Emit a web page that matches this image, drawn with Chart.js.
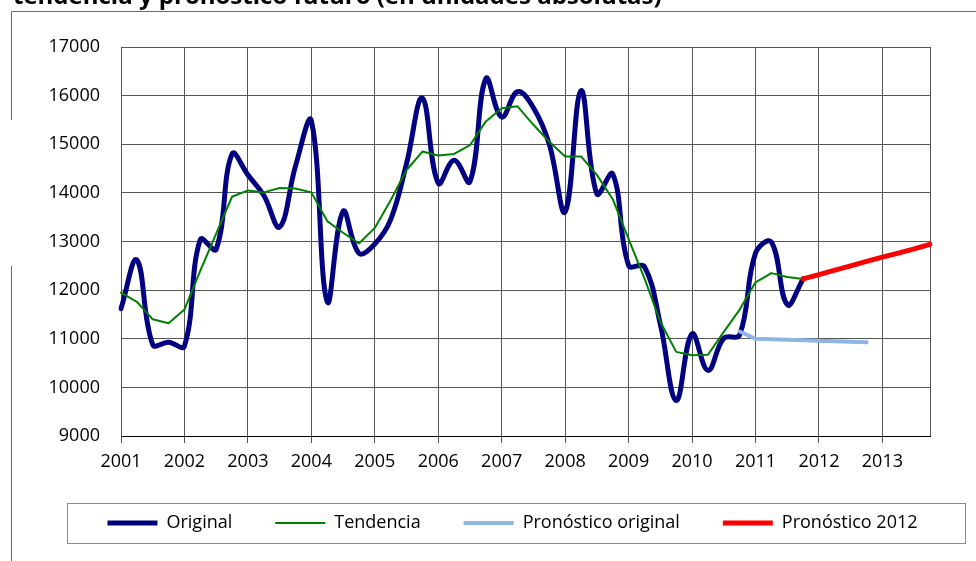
<!DOCTYPE html>
<html>
<head>
<meta charset="utf-8">
<script src="https://cdn.jsdelivr.net/npm/chart.js@4.4.1/dist/chart.umd.min.js"></script>
<style>
html,body{margin:0;padding:0;background:#fff;}
#wrap{width:976px;height:561px;position:relative;}
</style>
</head>
<body>
<div id="wrap"><canvas id="c" width="976" height="561"></canvas></div>
<script>
// ---- data (quarterly, 2001 T1 .. 2013 T4) ----
const years = ['2001','2002','2003','2004','2005','2006','2007','2008','2009','2010','2011','2012','2013'];
const quarters = ['T1','T2','T3','T4'];
const titleText = 'tendencia y pronóstico futuro (en unidades absolutas)';
const seriesNames = ['Original','Tendencia','Pronóstico original','Pronóstico 2012'];

const original = [
  11620,12620,10880,10930, 10850,13040,12840,14800, 14370,13950,13300,14550,
  15480,11760,13620,12760, 12950,13450,14600,15950, 14200,14670,14230,16350,
  15560,16080,15750,15000, 13610,16100,13980,14390, 12510,12480,11300,9730,
  11100,10350,11010,11080, 12760,12990,11700,12230
];
const tendencia = [
  11950,11760,11400,11320, 11600,12400,13160,13920, 14050,14010,14100,14090,
  14010,13420,13180,12960, 13280,13850,14470,14850, 14770,14800,14980,15470,
  15740,15780,15400,15050, 14750,14750,14370,13870, 13050,12240,11350,10730,
  10660,10670,11140,11600, 12160,12350,12270,12230
];
const pronosticoOriginalStart = '2010 T4';
const pronosticoOriginal = [11150,11000,10990,10980,10970,10960,10950,10940,10930];
const pronostico2012Start = '2011 T4';
const pronostico2012 = [12230,12320,12410,12500,12590,12680,12760,12850,12940];

const yTicks = {min: 9000, max: 17000, step: 1000};

// ---- build category labels and padded series ----
const categories = [];
years.forEach(y => quarters.forEach(q => categories.push(y + ' ' + q)));
function place(startLabel, values) {
  const start = categories.indexOf(startLabel);
  return categories.map((_, i) => (i >= start && i - start < values.length) ? values[i - start] : null);
}

const FONT = '"Open Sans", "DejaVu Sans", sans-serif';
Chart.defaults.font.family = FONT;
Chart.defaults.color = '#000';

const framePlugin = {
  id: 'frame',
  afterDraw(chart) {
    const ctx = chart.ctx;
    ctx.save();
    // outer frame (partly visible in the reference)
    ctx.strokeStyle = '#6b6b6b';
    ctx.lineWidth = 1;
    ctx.beginPath();
    ctx.moveTo(11.5, 11.5); ctx.lineTo(976, 11.5);
    ctx.moveTo(11.5, 11.5); ctx.lineTo(11.5, 120);
    ctx.moveTo(11.5, 266); ctx.lineTo(11.5, 561);
    ctx.stroke();
    // legend border
    ctx.strokeStyle = '#8a8a8a';
    ctx.strokeRect(67.5, 503.5, 898, 40);
    // title (cut off at top in the reference)
    let size = 20;
    ctx.font = 'bold ' + size + 'px ' + FONT;
    const w = ctx.measureText(titleText).width;
    size = size * 649 / w;
    ctx.font = 'bold ' + size.toFixed(2) + 'px ' + FONT;
    ctx.fillStyle = '#000';
    ctx.textBaseline = 'alphabetic';
    ctx.textAlign = 'left';
    ctx.fillText(titleText, 13, 3.5);
    ctx.restore();
  }
};

const GRID = '#555';
new Chart(document.getElementById('c'), {
  type: 'line',
  data: {
    labels: categories,
    datasets: [
      {label: seriesNames[0], data: original, borderColor: '#000080', backgroundColor: '#000080',
       borderWidth: 5, tension: 0.4, pointRadius: 0, borderCapStyle: 'round', borderJoinStyle: 'round', order: 4},
      {label: seriesNames[1], data: tendencia, borderColor: '#008000', backgroundColor: '#008000',
       borderWidth: 2, tension: 0, pointRadius: 0, borderCapStyle: 'round', borderJoinStyle: 'round', order: 3},
      {label: seriesNames[2], data: place(pronosticoOriginalStart, pronosticoOriginal), borderColor: '#8DB4E2', backgroundColor: '#8DB4E2',
       borderWidth: 4, tension: 0, pointRadius: 0, borderCapStyle: 'round', borderJoinStyle: 'round', order: 2},
      {label: seriesNames[3], data: place(pronostico2012Start, pronostico2012), borderColor: '#FF0000', backgroundColor: '#FF0000',
       borderWidth: 5, tension: 0, pointRadius: 0, borderCapStyle: 'round', borderJoinStyle: 'round', order: 1}
    ]
  },
  options: {
    responsive: false,
    animation: false,
    devicePixelRatio: 1,
    layout: {padding: {left: 49, right: 0, top: 47, bottom: 19}},
    plugins: {
      title: {display: false},
      tooltip: {enabled: false},
      legend: {
        position: 'bottom',
        align: 'center',
        labels: {
          usePointStyle: true,
          pointStyle: 'line',
          pointStyleWidth: 50,
          padding: 43,
          color: '#000',
          font: {size: 18, family: FONT},
          sort: (a, b) => a.datasetIndex - b.datasetIndex
        }
      }
    },
    scales: {
      x: {
        type: 'category',
        offset: false,
        afterFit: (s) => { s.height = 35; },
        grid: {
          color: (c) => (c.index % 4 === 0 || c.index === categories.length - 1) ? GRID : 'rgba(0,0,0,0)',
          tickColor: (c) => (c.index % 4 === 0) ? GRID : 'rgba(0,0,0,0)',
          tickLength: 7,
          lineWidth: 1
        },
        border: {color: '#000', width: 1},
        ticks: {
          autoSkip: false,
          maxRotation: 0,
          minRotation: 0,
          padding: 8,
          color: '#000',
          font: {size: 18, family: FONT},
          callback: (v, i) => (i % 4 === 0) ? years[i / 4] : ''
        }
      },
      y: {
        min: yTicks.min,
        max: yTicks.max,
        afterFit: (s) => { s.width = 72; },
        grid: {color: GRID, lineWidth: 1, drawTicks: false},
        border: {color: GRID, width: 1},
        ticks: {
          stepSize: yTicks.step,
          padding: 21,
          color: '#000',
          font: {size: 18, family: FONT},
          callback: (v) => String(v)
        }
      },
      y2: {
        position: 'right',
        display: true,
        min: yTicks.min,
        max: yTicks.max,
        afterFit: (s) => { s.width = 46; },
        grid: {display: false, drawTicks: false},
        border: {display: false},
        ticks: {display: false}
      }
    }
  },
  plugins: [framePlugin]
});
</script>
</body>
</html>
